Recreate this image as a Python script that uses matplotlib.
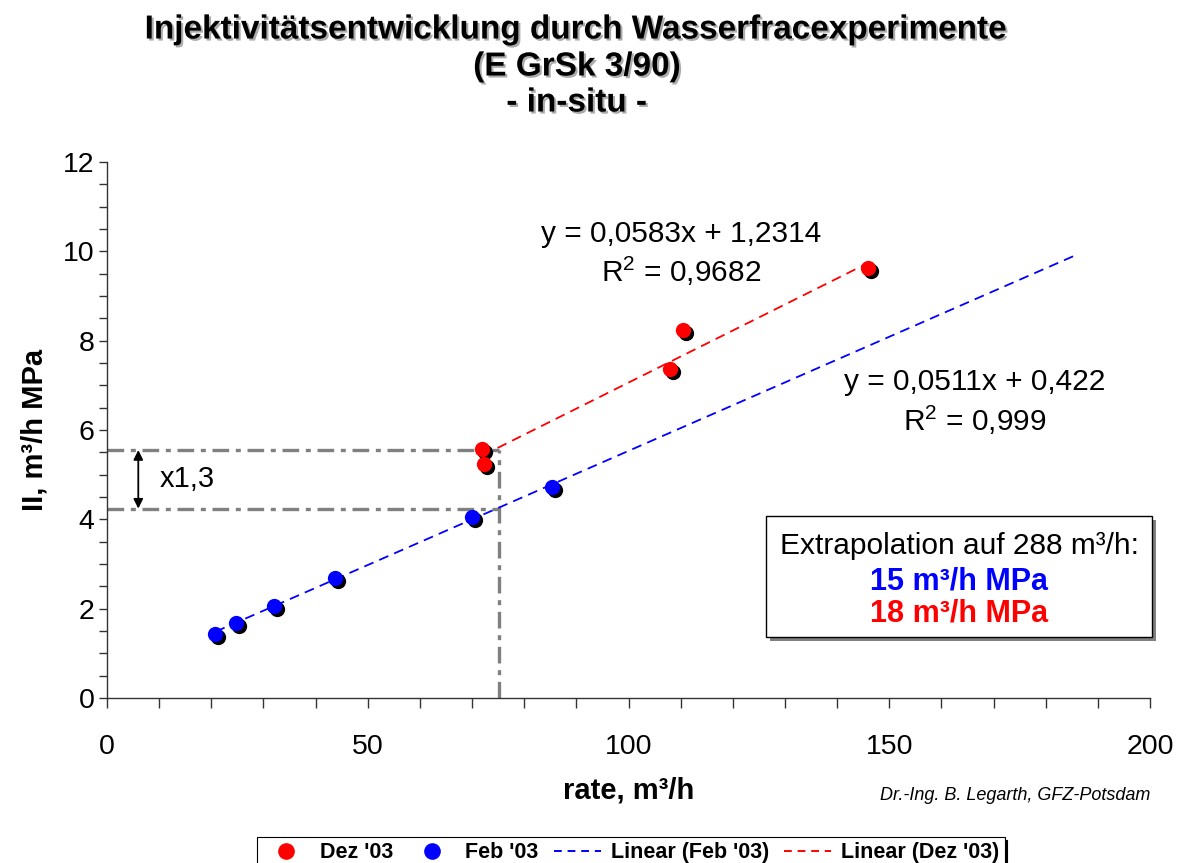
import matplotlib
matplotlib.use("Agg")
import matplotlib.pyplot as plt
import matplotlib.patheffects as pe
from matplotlib.transforms import ScaledTranslation
from matplotlib.patches import Rectangle
from matplotlib.lines import Line2D
from matplotlib.ticker import MultipleLocator
import numpy as np

plt.rcParams['font.family'] = ['Liberation Sans', 'DejaVu Sans']
plt.rcParams['mathtext.fontset'] = 'custom'
plt.rcParams['mathtext.rm'] = 'Liberation Sans'
plt.rcParams['mathtext.it'] = 'Liberation Sans:italic'
plt.rcParams['mathtext.bf'] = 'Liberation Sans:bold'

# ---------------- data ----------------
feb_rate = [20.8, 24.8, 32.1, 43.7, 70.0, 85.3]
feb_ii = [1.43, 1.68, 2.06, 2.69, 4.05, 4.73]
dez_rate = [72.0, 72.2, 108.0, 110.4, 145.9]
dez_ii = [5.58, 5.24, 7.37, 8.24, 9.62]

feb_slope, feb_intercept = 0.0511, 0.422
dez_slope, dez_intercept = 0.0583, 1.2314
feb_fit_range = [20.8, 185.5]
dez_fit_range = [72.1, 146.0]

ref_rate = 75.1
ref_ii_feb = 4.24
ref_ii_dez = 5.55

x_ticks = [0, 50, 100, 150, 200]
y_ticks = [0, 2, 4, 6, 8, 10, 12]

title_lines = ["Injektivitätsentwicklung durch Wasserfracexperimente",
               "(E GrSk 3/90)", "- in-situ -"]

# ---------------- figure ----------------
W, H = 1186, 863
fig = plt.figure(figsize=(W / 100, H / 100), dpi=100)
ax = fig.add_axes([107 / W, 1 - 698 / H, (1150 - 107) / W, (698 - 162) / H])
ax.set_xlim(0, 200)
ax.set_ylim(0, 12)

for s in ['top', 'right']:
    ax.spines[s].set_visible(False)
for s in ['left', 'bottom']:
    ax.spines[s].set_color('#333333')
    ax.spines[s].set_linewidth(1.0)

ax.set_xticks(x_ticks)
ax.set_yticks(y_ticks)
ax.xaxis.set_minor_locator(MultipleLocator(10))
ax.yaxis.set_minor_locator(MultipleLocator(0.5))
ax.tick_params(axis='x', which='both', direction='out', length=7, width=1,
               color='#333333', labelsize=20.5, pad=19)
ax.tick_params(axis='y', which='both', direction='out', length=6, width=1,
               color='#333333', labelsize=20.5, pad=3)

ax.set_xlabel("rate, m³/h", fontsize=21, fontweight='bold', labelpad=12)
ax.set_ylabel("II, m³/h MPa", fontsize=21, fontweight='bold', labelpad=10)

# reference dash-dot lines
gray = '#808080'
dd = dict(color=gray, lw=2.4, dashes=(5, 2, 1.5, 2), zorder=2)
ax.plot([0, ref_rate], [ref_ii_dez, ref_ii_dez], **dd)
ax.plot([0, ref_rate], [ref_ii_feb, ref_ii_feb], **dd)
ax.plot([ref_rate, ref_rate], [0, ref_ii_dez], **dd)

ax.annotate("", xy=(6.0, ref_ii_dez), xytext=(6.0, ref_ii_feb),
            arrowprops=dict(arrowstyle='<|-|>', color='black', lw=1.3,
                            mutation_scale=14, shrinkA=0, shrinkB=0))
ax.text(10.1, (ref_ii_dez + ref_ii_feb) / 2, "x1,3", fontsize=21,
        va='center', ha='left')

# trend lines
xf = np.array(feb_fit_range)
xd = np.array(dez_fit_range)
ax.plot(xf, feb_slope * xf + feb_intercept, color='#0000ff', lw=1.3,
        dashes=(5.5, 3.5), zorder=3)
ax.plot(xd, dez_slope * xd + dez_intercept, color='#ff0000', lw=1.3,
        dashes=(5.5, 3.5), zorder=3)

# points with black shadow
shadow_tr = ax.transData + ScaledTranslation(3 / 100, -3 / 100, fig.dpi_scale_trans)
ms = 11
ax.plot(feb_rate, feb_ii, 'o', color='black', ms=ms, mec='none',
        transform=shadow_tr, zorder=4)
ax.plot(dez_rate, dez_ii, 'o', color='black', ms=ms, mec='none',
        transform=shadow_tr, zorder=4)
ax.plot(feb_rate, feb_ii, 'o', color='#0000ff', ms=ms, mec='none', zorder=5)
ax.plot(dez_rate, dez_ii, 'o', color='#ff0000', ms=ms, mec='none', zorder=5)

# equations
eq_fs = 21.5
ax.text(110.1, 10.39, "y = 0,0583x + 1,2314", fontsize=eq_fs, ha='center', va='center')
ax.text(110.1, 9.55, r"R$^2$ = 0,9682", fontsize=eq_fs, ha='center', va='center')
ax.text(166.4, 7.07, "y = 0,0511x + 0,422", fontsize=eq_fs, ha='center', va='center')
ax.text(166.4, 6.22, r"R$^2$ = 0,999", fontsize=eq_fs, ha='center', va='center')

# extrapolation box
bx0, by0, bx1, by1 = 766 / W, 1 - 637 / H, 1152 / W, 1 - 516 / H
fig.add_artist(Rectangle((bx0 + 4 / W, by0 - 4 / H), bx1 - bx0, by1 - by0,
                         transform=fig.transFigure, facecolor='#808080',
                         edgecolor='none', zorder=6))
fig.add_artist(Rectangle((bx0, by0), bx1 - bx0, by1 - by0,
                         transform=fig.transFigure, facecolor='white',
                         edgecolor='black', lw=1.0, zorder=7))
cx = (766 + 1152) / 2 / W
fig.text(cx, 1 - 546 / H, "Extrapolation auf 288 m³/h:", fontsize=21.5,
         ha='center', va='center', zorder=8)
fig.text(cx, 1 - 581 / H, "15 m³/h MPa", fontsize=22, fontweight='bold',
         color='#0000ff', ha='center', va='center', zorder=8)
fig.text(cx, 1 - 613 / H, "18 m³/h MPa", fontsize=22, fontweight='bold',
         color='#ff0000', ha='center', va='center', zorder=8)

# title
shadow = [pe.withSimplePatchShadow(offset=(1.5, -1.5), shadow_rgbFace='#888888', alpha=0.7)]
for line, yp in zip(title_lines, [30, 67, 103]):
    fig.text(577 / W, 1 - yp / H, line, fontsize=24, fontweight='bold',
             ha='center', va='center', path_effects=shadow)

# credit
fig.text(1150 / W, 1 - 795 / H, "Dr.-Ing. B. Legarth, GFZ-Potsdam",
         fontsize=13, style='italic', ha='right', va='center')

# legend
handles = [
    Line2D([], [], ls='none', marker='o', color='#ff0000', ms=12, mec='none'),
    Line2D([], [], ls='none', marker='o', color='#0000ff', ms=12, mec='none'),
    Line2D([], [], color='#0000ff', lw=1.4, dashes=(4, 3)),
    Line2D([], [], color='#ff0000', lw=1.4, dashes=(4, 3)),
]
labels = ["Dez '03", "Feb '03", "Linear (Feb '03)", "Linear (Dez '03)"]
leg = fig.legend(handles, labels, loc='upper center',
                 bbox_to_anchor=(631 / W, 1 - 837 / H), ncol=4,
                 frameon=True, fancybox=False, edgecolor='black',
                 shadow={'color': 'black', 'alpha': 1.0},
                 prop={'weight': 'bold', 'size': 15.5}, handlelength=2.2,
                 handletextpad=0.45, columnspacing=0.7, borderpad=0.25,
                 borderaxespad=0)
leg.get_frame().set_linewidth(0.8)

fig.savefig("out.png", dpi=100)
